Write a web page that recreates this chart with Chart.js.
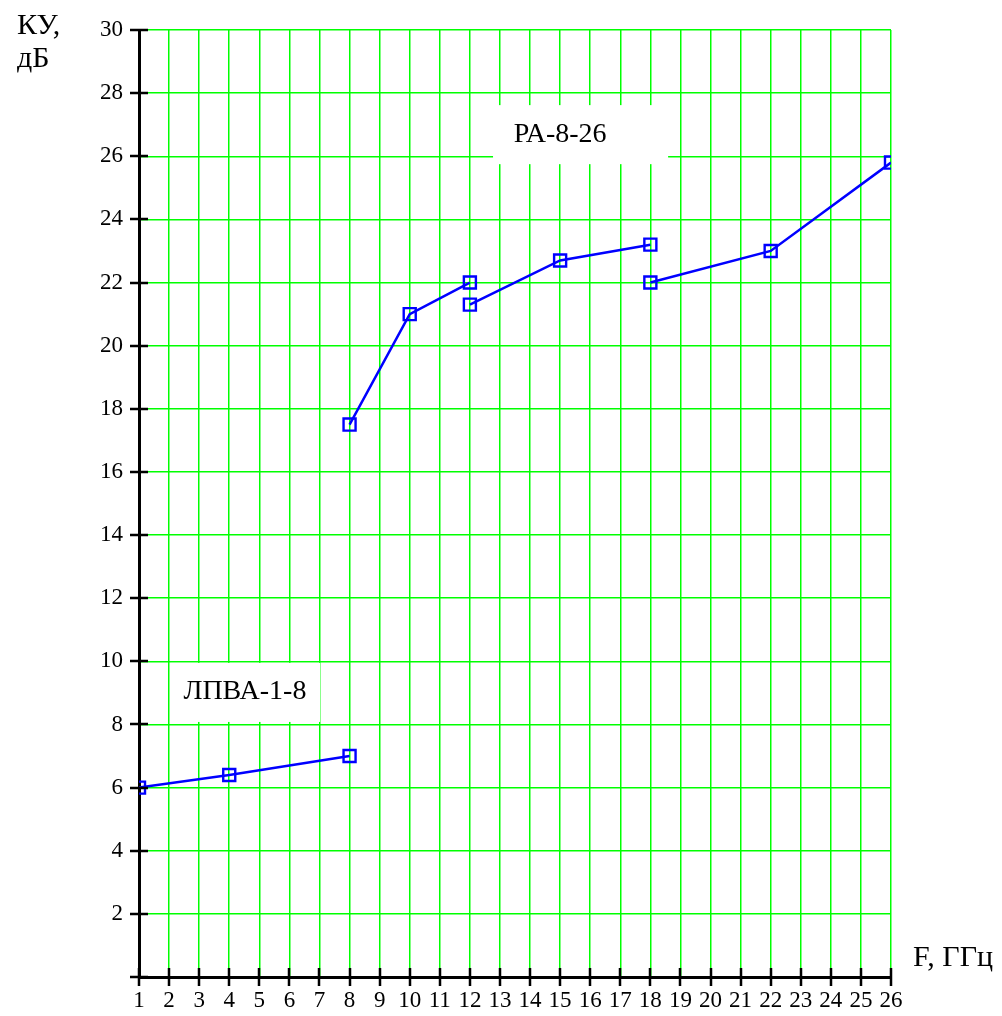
<!DOCTYPE html>
<html>
<head>
<meta charset="utf-8">
<script src="https://cdn.jsdelivr.net/npm/chart.js@4/dist/chart.umd.min.js"></script>
<style>
html,body{margin:0;padding:0;background:#fff;}
canvas{display:block;}
</style>
</head>
<body>
<canvas id="c" width="1002" height="1016"></canvas>
<script>
// ---- data ----
const lpvaF = [1, 4, 8];
const lpvaG = [6.0, 6.4, 7.0];
const pa1F = [8, 10, 12];
const pa1G = [17.5, 21.0, 22.0];
const pa2F = [12, 15, 18];
const pa2G = [21.3, 22.7, 23.2];
const pa3F = [18, 22, 26];
const pa3G = [22.0, 23.0, 25.8];
const xTickVals = [1,2,3,4,5,6,7,8,9,10,11,12,13,14,15,16,17,18,19,20,21,22,23,24,25,26];
const yTickVals = [0,2,4,6,8,10,12,14,16,18,20,22,24,26,28,30];
const seriesNames = ['ЛПВА-1-8', 'РА-8-26'];
const yTitle = ['КУ,', 'дБ'];
const xTitle = 'F, ГГц';

const FONT = 'Liberation Serif, Times New Roman, serif';
const pts = (xs, ys) => xs.map((x, i) => ({x: x, y: ys[i]}));

function ds(data, label) {
  return {
    label: label,
    data: data,
    borderColor: '#0000ff',
    borderWidth: 2.5,
    backgroundColor: 'rgba(0,0,0,0)',
    pointStyle: 'rect',
    pointRadius: 8.5,
    pointBorderWidth: 2.4,
    pointBorderColor: '#0000ff',
    pointBackgroundColor: 'rgba(0,0,0,0)',
    tension: 0,
    clip: 0
  };
}

const labelBoxes = {
  id: 'labelBoxes',
  beforeDatasetsDraw(chart) {
    const ctx = chart.ctx, xs = chart.scales.x, ys = chart.scales.y;
    const boxes = [
      {text: seriesNames[1], x0: 12.77, x1: 18.59, y0: 25.75, y1: 27.62, tx: 15.0, ty: 26.45},
      {text: seriesNames[0], x0: 2.05, x1: 7.02, y0: 8.08, y1: 9.95, tx: 4.52, ty: 8.82}
    ];
    ctx.save();
    boxes.forEach(b => {
      const l = xs.getPixelForValue(b.x0), r = xs.getPixelForValue(b.x1);
      const t = ys.getPixelForValue(b.y1), bt = ys.getPixelForValue(b.y0);
      ctx.fillStyle = '#fff';
      ctx.fillRect(l, t, r - l, bt - t);
      ctx.fillStyle = '#000';
      ctx.font = '28px ' + FONT;
      ctx.textAlign = 'center';
      ctx.textBaseline = 'alphabetic';
      ctx.fillText(b.text, xs.getPixelForValue(b.tx), ys.getPixelForValue(b.ty));
    });
    ctx.restore();
  }
};

const axisExtras = {
  id: 'axisExtras',
  afterDraw(chart) {
    const ctx = chart.ctx, xs = chart.scales.x, ys = chart.scales.y;
    const a = chart.chartArea;
    ctx.save();
    ctx.strokeStyle = '#000';
    ctx.lineWidth = 2.5;
    ctx.beginPath();
    yTickVals.forEach(v => {
      const p = Math.round(ys.getPixelForValue(v));
      ctx.moveTo(a.left - 9, p); ctx.lineTo(a.left + 9, p);
    });
    xTickVals.forEach(v => {
      const p = Math.round(xs.getPixelForValue(v));
      ctx.moveTo(p, a.bottom - 9); ctx.lineTo(p, a.bottom + 9);
    });
    ctx.stroke();
    ctx.fillStyle = '#000';
    ctx.font = '30px ' + FONT;
    ctx.textAlign = 'left';
    ctx.textBaseline = 'alphabetic';
    ctx.fillText(yTitle[0], 17, 34);
    ctx.fillText(yTitle[1], 17, 67);
    ctx.fillText(xTitle, 913, 966);
    ctx.restore();
  }
};

new Chart(document.getElementById('c'), {
  type: 'line',
  data: {
    datasets: [
      ds(pts(lpvaF, lpvaG), seriesNames[0]),
      ds(pts(pa1F, pa1G), seriesNames[1]),
      ds(pts(pa2F, pa2G), seriesNames[1]),
      ds(pts(pa3F, pa3G), seriesNames[1])
    ]
  },
  options: {
    responsive: false,
    animation: false,
    devicePixelRatio: 1,
    layout: {padding: {left: 0, right: 111, top: 30, bottom: 0}},
    plugins: {legend: {display: false}, tooltip: {enabled: false}},
    scales: {
      x: {
        type: 'linear', min: 1, max: 26,
        afterBuildTicks: s => { s.ticks = xTickVals.map(v => ({value: v})); },
        afterFit: s => { s.height = 39; },
        ticks: {autoSkip: false, maxRotation: 0, padding: 10, color: '#000',
          font: {family: FONT, size: 23}},
        grid: {color: '#00ff00', lineWidth: 1.5, drawTicks: false},
        border: {display: true, color: '#000', width: 3}
      },
      y: {
        type: 'linear', min: 0, max: 30,
        afterBuildTicks: s => { s.ticks = yTickVals.map(v => ({value: v})); },
        afterFit: s => { s.width = 139; },
        ticks: {autoSkip: false, padding: 16, color: '#000',
          font: {family: FONT, size: 23},
          callback: v => (v === 0 ? '' : String(v))},
        grid: {color: '#00ff00', lineWidth: 1.5, drawTicks: false},
        border: {display: true, color: '#000', width: 3}
      }
    }
  },
  plugins: [labelBoxes, axisExtras]
});
</script>
</body>
</html>
